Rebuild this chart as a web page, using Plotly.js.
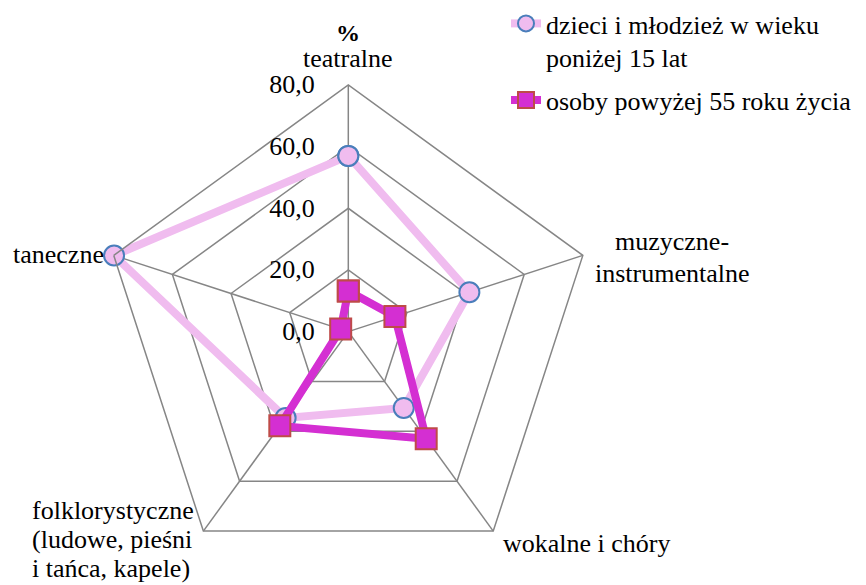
<!DOCTYPE html>
<html>
<head>
<meta charset="utf-8">
<script src="https://cdn.plot.ly/plotly-3.0.1.min.js"></script>
<style>html,body{margin:0;padding:0;background:#fff;}#chart{width:866px;height:585px;}</style>
</head>
<body>
<div id="chart"></div>
<script>
// ---- data ----
const categories = ['teatralne', 'muzyczne-instrumentalne', 'wokalne i chóry', 'folklorystyczne (ludowe, pieśni i tańca, kapele)', 'taneczne'];
const categoryLabels = ['teatralne', 'muzyczne-<br>instrumentalne', 'wokalne i chóry', 'folklorystyczne<br>(ludowe, pieśni<br>i tańca, kapele)', 'taneczne'];
const seriesNames = ['dzieci i młodzież w wieku<br>poniżej 15 lat', 'osoby powyżej 55 roku życia'];
const childrenValues = [57.0, 41.3, 30.6, 34.6, 79.9];
const seniorValues = [13.2, 15.9, 43.0, 37.8, 2.6];
const radialTicks = [0, 20, 40, 60, 80];
const radialTitle = '%';

// ---- layout helpers ----
const W = 866, H = 585;
const cx = 348.3, cy = 331.6, R = 246.6;
const FONT = '"Times New Roman", "Liberation Serif", "DejaVu Serif", serif';
const FS = 26;
const px = x => x / W;
const py = y => 1 - y / H;

function closed(a) { return a.concat([a[0]]); }

const traces = [
  {
    type: 'scatterpolar', mode: 'lines+markers',
    r: closed(childrenValues), theta: closed(categories),
    name: seriesNames[0], legendgroup: 'a',
    line: {color: '#F0BCEF', width: 8},
    marker: {symbol: 'circle', size: 20, color: '#F0BCEF', line: {color: '#4A7EBB', width: 2}},
    cliponaxis: false
  },
  {
    type: 'scatterpolar', mode: 'lines+markers',
    r: closed(seniorValues), theta: closed(categories),
    name: seriesNames[1], legendgroup: 'b',
    line: {color: '#D42FD2', width: 8},
    marker: {symbol: 'square', size: 21, color: '#D42FD2', line: {color: '#BE4B48', width: 2}},
    cliponaxis: false
  }
];

// angular labels as annotations (line by line to match spacing)
const labelPos = [
  {x: 348, y: 59, xanchor: 'center'},
  {x: 672, y: 242, xanchor: 'center'},
  {x: 501, y: 543, xanchor: 'left'},
  {x: 30, y: 510, xanchor: 'left'},
  {x: 106, y: 254, xanchor: 'right'}
];
const lineSpacing = [30, 31, 30, 29, 30];
const annotations = [];
categoryLabels.forEach((lab, i) => {
  lab.split('<br>').forEach((ln, j) => {
    annotations.push({
      xref: 'paper', yref: 'paper', showarrow: false,
      x: px(labelPos[i].x), y: py(labelPos[i].y + j * lineSpacing[i]),
      xanchor: labelPos[i].xanchor, yanchor: 'middle',
      text: ln, font: {family: FONT, size: FS, color: '#000'}
    });
  });
});
annotations.push({
  xref: 'paper', yref: 'paper', showarrow: false,
  x: px(348), y: py(33), xanchor: 'center', yanchor: 'middle',
  text: '<b>' + radialTitle + '</b>', font: {family: FONT, size: FS - 2, color: '#000'}
});

const layout = {
  width: W, height: H,
  margin: {l: 0, r: 0, t: 0, b: 0},
  paper_bgcolor: '#fff',
  separators: ', ',
  font: {family: FONT, size: FS, color: '#000'},
  showlegend: true,
  legend: {
    x: px(506), y: 1, xanchor: 'left', yanchor: 'top',
    font: {family: FONT, size: FS, color: '#000'},
    valign: 'top', traceorder: 'grouped', tracegroupgap: 6,
    bgcolor: 'rgba(0,0,0,0)', itemwidth: 30
  },
  polar: {
    domain: {x: [px(cx - R), px(cx + R)], y: [py(cy + R), py(cy - R)]},
    bgcolor: '#fff',
    gridshape: 'linear',
    hole: 0,
    angularaxis: {
      direction: 'clockwise', rotation: 90,
      showticklabels: false, ticks: '',
      showline: true, linecolor: '#868686', linewidth: 1.5,
      showgrid: true, gridcolor: '#868686', gridwidth: 1.5
    },
    radialaxis: {
      range: [0, 80], angle: 90, side: 'counterclockwise',
      tickvals: radialTicks, tickformat: '.1f', tickangle: 90,
      ticks: 'outside', ticklen: 24, tickcolor: 'rgba(0,0,0,0)',
      showline: false, showgrid: true, gridcolor: '#868686', gridwidth: 1.5,
      tickfont: {family: FONT, size: FS, color: '#000'}
    }
  },
  annotations: annotations
};

Plotly.newPlot('chart', traces, layout, {displayModeBar: false, staticPlot: true});
</script>
</body>
</html>
